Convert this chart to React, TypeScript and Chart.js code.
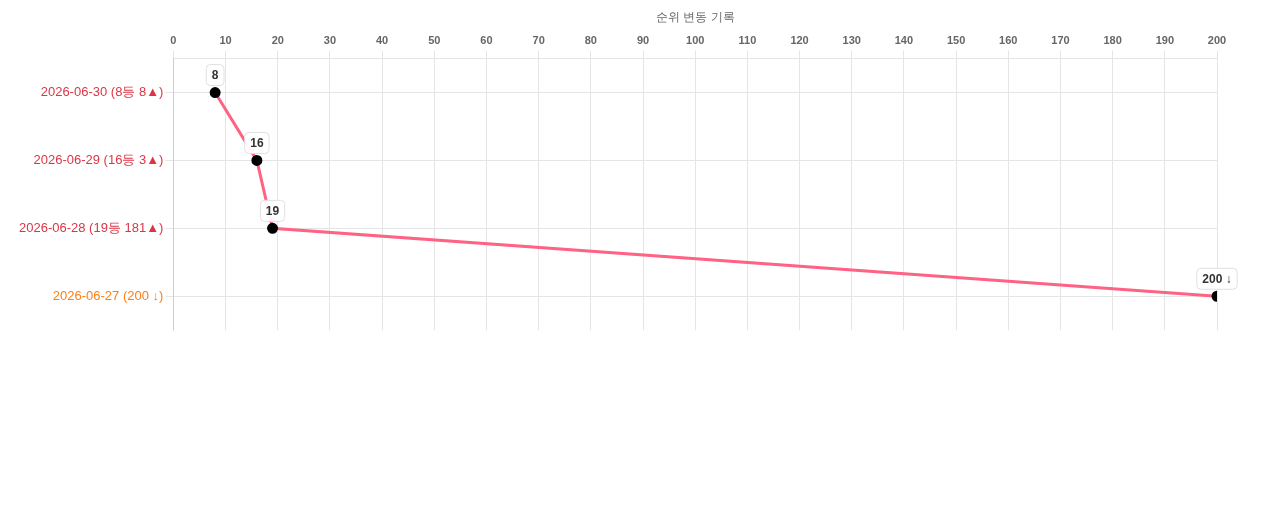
import React, { useEffect, useRef } from "react";
import { Chart, registerables } from "chart.js";

Chart.register(...registerables);

const categories = [
  "2026-06-30 (8등 8▲)",
  "2026-06-29 (16등 3▲)",
  "2026-06-28 (19등 181▲)",
  "2026-06-27 (200 ↓)",
];
const ranks = [8, 16, 19, 200];
const pointLabels = ["8", "16", "19", "200 ↓"];
const labelColors = ["#dc3545", "#dc3545", "#dc3545", "#fd7e14"];
const axisTitle = "순위 변동 기록";
const xMin = 0;
const xMax = 200;
const xStep = 10;

const labelBoxPlugin = {
  id: "labelBoxPlugin",
  afterDatasetsDraw(chart: any) {
    const ctx = chart.ctx;
    const meta = chart.getDatasetMeta(0);
    ctx.save();
    ctx.font = "bold 12px 'Helvetica Neue', Helvetica, Arial, sans-serif";
    ctx.textAlign = "center";
    ctx.textBaseline = "middle";
    meta.data.forEach((pt: any, i: number) => {
      const text = pointLabels[i];
      const w = ctx.measureText(text).width + 11;
      const h = 21;
      const cx = pt.x;
      const cy = pt.y - 17.5;
      const x = cx - w / 2;
      const y = cy - h / 2;
      ctx.beginPath();
      if (ctx.roundRect) ctx.roundRect(x, y, w, h, 4);
      else ctx.rect(x, y, w, h);
      ctx.fillStyle = "rgba(255,255,255,0.95)";
      ctx.fill();
      ctx.lineWidth = 1;
      ctx.strokeStyle = "#e0e0e0";
      ctx.stroke();
      ctx.fillStyle = "#333";
      ctx.fillText(text, cx, cy + 0.5);
    });
    ctx.restore();
  },
};

export default function App() {
  const ref = useRef<HTMLCanvasElement | null>(null);
  useEffect(() => {
    if (!ref.current) return;
    const chart = new Chart(ref.current, {
      type: "line",
      data: {
        labels: categories,
        datasets: [
          {
            data: ranks,
            borderColor: "#ff6384",
            backgroundColor: "#ff6384",
            borderWidth: 3,
            pointBackgroundColor: "#000",
            pointBorderColor: "#000",
            pointRadius: 4,
            tension: 0,
          },
        ],
      },
      options: {
        animation: false,
        responsive: true,
        maintainAspectRatio: false,
        indexAxis: "y",
        layout: { padding: { left: 9, right: 39, top: 0, bottom: 3 } },
        plugins: {
          legend: { display: false },
          tooltip: { enabled: false },
        },
        scales: {
          x: {
            type: "linear",
            position: "top",
            min: xMin,
            max: xMax,
            ticks: {
              stepSize: xStep,
              color: "#666",
              font: { size: 11, weight: "bold" },
            },
            grid: { color: "#e5e5e5" },
            title: {
              display: true,
              text: axisTitle,
              color: "#666",
              font: { size: 12 },
              padding: { top: 2, bottom: 7 },
            },
          },
          y: {
            type: "category",
            offset: true,
            ticks: {
              color: (c: any) => labelColors[c.index] || "#666",
              font: { size: 13 },
              padding: 2,
            },
            grid: { color: "#e5e5e5" },
          },
        },
      },
      plugins: [labelBoxPlugin],
    });
    return () => chart.destroy();
  }, []);
  return (
    <div style={{ position: "relative", width: "100%", height: "332px" }}>
      <canvas ref={ref} />
    </div>
  );
}
